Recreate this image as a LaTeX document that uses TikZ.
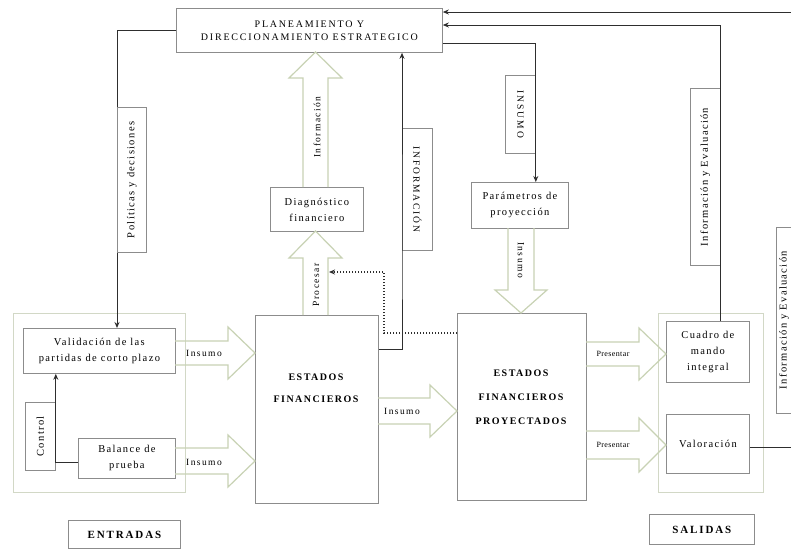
\documentclass[tikz,border=0pt]{standalone}
\usepackage{fontspec}
\setmainfont{Liberation Serif}
\usetikzlibrary{arrows.meta}
\definecolor{boxc}{HTML}{8C8C8C}
\definecolor{grpc}{HTML}{D2D8C6}
\definecolor{arrc}{HTML}{C8D2B4}
\definecolor{linec}{HTML}{2E2E2E}
\newcommand\lblfont{\fontsize{10.5}{16}\selectfont\addfontfeatures{LetterSpace=13}}
\newcommand\smlfont{\fontsize{9.5}{11}\selectfont\addfontfeatures{LetterSpace=15}}
\newcommand\prsfont{\fontsize{8}{10}\selectfont\addfontfeatures{LetterSpace=5}}
\newcommand\smcapfont{\fontsize{9.5}{11}\selectfont\addfontfeatures{LetterSpace=20}}
\newcommand\capfont{\fontsize{10}{13}\selectfont\addfontfeatures{LetterSpace=18}}
\newcommand\bfcapfont{\fontsize{10}{12}\selectfont\bfseries\addfontfeatures{LetterSpace=15}}
\newcommand\bigcapfont{\fontsize{11}{13}\selectfont\bfseries\addfontfeatures{LetterSpace=17}}
\newcommand\harrow[6]{% x1 x2 yc shafthalf headhalf headlen
  \draw[bigarr] (#1,#3-#4) -- (#2-#6,#3-#4) -- (#2-#6,#3-#5) -- (#2,#3) -- (#2-#6,#3+#5) -- (#2-#6,#3+#4) -- (#1,#3+#4);}
\newcommand\varrow[6]{% y1 y2 xc shafthalf headhalf headlen (signed)
  \draw[bigarr] (#3-#4,#1) -- (#3-#4,#2-#6) -- (#3-#5,#2-#6) -- (#3,#2) -- (#3+#5,#2-#6) -- (#3+#4,#2-#6) -- (#3+#4,#1);}
\begin{document}
\begin{tikzpicture}[x=1pt,y=-1pt,
  box/.style={draw=boxc, line width=0.8pt, inner sep=0pt, align=center, font=\lblfont, anchor=north west},
  grp/.style={draw=grpc, line width=1.2pt, inner sep=0pt, anchor=north west},
  bigarr/.style={draw=arrc, line width=1.2pt, line join=miter},
  conn/.style={draw=linec, line width=1pt},
  tip/.style={-{Stealth[length=6pt,width=5pt]}},
  dotconn/.style={draw=linec, line width=1.3pt, dash pattern=on 1.2pt off 1.8pt},
  arrlbl/.style={font=\smlfont, inner sep=0pt},
  bold/.style={font=\bfcapfont, inner sep=0pt}]
\useasboundingbox (0,0) rectangle (791,550);
\clip (0,0) rectangle (791,550);
\fill[white] (0,0) rectangle (791,550);

% group boxes
\node[grp, minimum width=172pt, minimum height=179pt] (gin) at (13,313) {};
\node[grp, minimum width=105pt, minimum height=179pt] (gout) at (658,313) {};

% boxes
\node[box, font=\capfont, minimum width=266pt, minimum height=44pt] (top) at (176,8) {PLANEAMIENTO Y\\DIRECCIONAMIENTO ESTRATEGICO};
\node[box, minimum width=29pt, minimum height=145pt] (pol) at (117,107) {};
\node[font=\lblfont, rotate=90, inner sep=0pt] (poltxt) at (pol.center) {Políticas y decisiones};
\node[box, minimum width=152pt, minimum height=45pt] (val) at (23,328) {Validación de las\\partidas de corto plazo};
\node[box, minimum width=30pt, minimum height=68pt] (ctl) at (25,402) {};
\node[font=\lblfont, rotate=90, inner sep=0pt] (ctltxt) at (ctl.center) {Control};
\node[box, minimum width=97pt, minimum height=40pt] (bal) at (78,438) {Balance de\\prueba};
\node[box, font=\bigcapfont, minimum width=112pt, minimum height=28pt] (ent) at (68,520) {ENTRADAS};
\node[box, minimum width=123pt, minimum height=188pt] (ef) at (255,315) {};
\node[bold] (eft1) at (316,377) {ESTADOS};
\node[bold] (eft2) at (316,399) {FINANCIEROS};
\node[box, minimum width=93pt, minimum height=44pt] (diag) at (270,187) {Diagnóstico\\financiero};
\node[box, minimum width=97pt, minimum height=46pt] (par) at (471,182) {Parámetros de\\proyección};
\node[box, minimum width=129pt, minimum height=187pt] (proy) at (457,313) {};
\node[bold] (pt1) at (521,373) {ESTADOS};
\node[bold] (pt2) at (521,397) {FINANCIEROS};
\node[bold] (pt3) at (521,421) {PROYECTADOS};
\node[box, minimum width=83pt, minimum height=61pt] (cua) at (666,321) {Cuadro de\\mando\\integral};
\node[box, minimum width=83pt, minimum height=59pt] (valo) at (666,414) {Valoración};
\node[box, font=\bigcapfont, minimum width=105pt, minimum height=30pt] (sal) at (649,514) {SALIDAS};
\node[box, minimum width=30pt, minimum height=122pt] (info) at (402,128) {};
\node[font=\smcapfont, rotate=-90, inner sep=0pt] (infotxt) at (info.center) {INFORMACIÓN};
\node[box, minimum width=30pt, minimum height=78pt] (ins) at (505,75) {};
\node[font=\smcapfont, rotate=-90, inner sep=0pt] (instxt) at (ins.center) {INSUMO};
\node[box, minimum width=30pt, minimum height=177pt] (ie) at (690,88) {};
\node[font=\lblfont, rotate=90, inner sep=0pt] (ietxt) at (ie.center) {Información y Evaluación};
\node[box, minimum width=20pt, minimum height=186pt] (ie2) at (776,227) {};
\node[font=\lblfont, rotate=90, inner sep=0pt] (ie2txt) at (784,320) {Información y Evaluación};

% big hollow arrows
\harrow{175}{255}{353}{12}{26}{27}
\node[arrlbl] (a1) at (204,353) {Insumo};
\harrow{175}{255}{461}{13}{26}{27}
\node[arrlbl] (a2) at (204,462) {Insumo};
\harrow{378}{457}{411}{13}{26}{27}
\node[arrlbl] (a3) at (402,411) {Insumo};
\harrow{586}{666}{354}{12}{26}{27}
\node[arrlbl, font=\prsfont] (a4) at (613,354) {Presentar};
\harrow{586}{666}{445}{14}{27}{27}
\node[arrlbl, font=\prsfont] (a5) at (613,445) {Presentar};
\varrow{315}{231}{315.5}{12.5}{26.5}{-27}
\node[arrlbl, rotate=90] (a6) at (316,285) {Procesar};
\varrow{187}{52}{315.5}{12.5}{26.5}{-26}
\node[arrlbl, rotate=90] (a7) at (317,127) {Información};
\varrow{228}{313}{521}{13}{26}{23}
\node[arrlbl, rotate=-90] (a8) at (521,260) {Insumo};

% connectors
\draw[conn] (top.west) -| (pol.north west);
\draw[conn,tip] (pol.south west) -- (pol.south west |- val.north);
\draw[conn,tip] ([yshift=-4pt]bal.west) -| (ctl.east |- val.south);
\draw[conn,tip] ([yshift=-34pt]ef.north east) -| (info.south west) -- (info.south west |- top.south);
\draw[conn,tip] ([yshift=-35pt]top.north east) -| (ins.north east) -- (ins.north east |- par.north);
\draw[conn,tip] (ie.east |- cua.north) -- (ie.north east) |- ([yshift=-17pt]top.north east);
\coordinate (rt) at (791,12);
\draw[conn,tip] (rt) -- (rt -| top.east);
\coordinate (rv) at (791,447);
\draw[conn] (valo.east |- rv) -- (rv);
\coordinate (dk) at (384,272);
\coordinate (dt) at (329,272);
\draw[dotconn,tip] ([yshift=-20pt]proy.north west) -| (dk) -- (dt);
\end{tikzpicture}
\end{document}
